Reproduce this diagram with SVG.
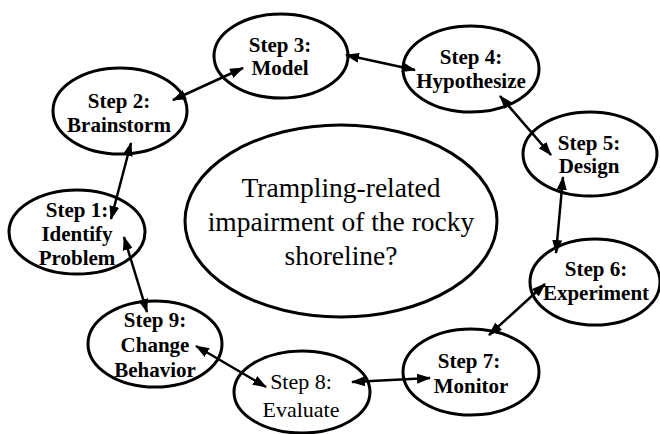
<svg xmlns="http://www.w3.org/2000/svg" width="660" height="434" viewBox="0 0 660 434">
<defs>
<marker id="ah" viewBox="0 0 14 10" refX="13" refY="5" markerWidth="14" markerHeight="10" markerUnits="userSpaceOnUse" orient="auto-start-reverse">
<path d="M0,0 L14,5 L0,10 z" fill="#000"/>
</marker>
</defs>
<rect width="660" height="434" fill="#fff"/>
<g id="center">
<ellipse cx="341" cy="221" rx="156" ry="96" fill="#fff" stroke="#000" stroke-width="3"/>
<text x="341" y="197" text-anchor="middle" font-family="Times New Roman" font-size="27.5">Trampling-related</text>
<text x="341" y="231" text-anchor="middle" font-family="Times New Roman" font-size="27.5">impairment of the rocky</text>
<text x="341" y="265" text-anchor="middle" font-family="Times New Roman" font-size="27.5">shoreline?</text>
</g>
<g id="step1">
<ellipse cx="77" cy="232" rx="68" ry="42" fill="#fff" stroke="#000" stroke-width="3"/>
<text x="77" y="217" text-anchor="middle" font-family="Times New Roman" font-size="21" font-weight="bold">Step 1:</text>
<text x="77" y="241" text-anchor="middle" font-family="Times New Roman" font-size="21" font-weight="bold">Identify</text>
<text x="77" y="265" text-anchor="middle" font-family="Times New Roman" font-size="21" font-weight="bold">Problem</text>
</g>
<g id="step2">
<ellipse cx="120" cy="111" rx="67" ry="43" fill="#fff" stroke="#000" stroke-width="3"/>
<text x="119" y="108" text-anchor="middle" font-family="Times New Roman" font-size="21" font-weight="bold">Step 2:</text>
<text x="119" y="132" text-anchor="middle" font-family="Times New Roman" font-size="21" font-weight="bold">Brainstorm</text>
</g>
<g id="step3">
<ellipse cx="281" cy="56" rx="67" ry="42" fill="#fff" stroke="#000" stroke-width="3"/>
<text x="280" y="52" text-anchor="middle" font-family="Times New Roman" font-size="21" font-weight="bold">Step 3:</text>
<text x="280" y="75" text-anchor="middle" font-family="Times New Roman" font-size="21" font-weight="bold">Model</text>
</g>
<g id="step4">
<ellipse cx="471" cy="69" rx="68" ry="43" fill="#fff" stroke="#000" stroke-width="3"/>
<text x="471" y="64" text-anchor="middle" font-family="Times New Roman" font-size="21" font-weight="bold">Step 4:</text>
<text x="471" y="88" text-anchor="middle" font-family="Times New Roman" font-size="21" font-weight="bold">Hypothesize</text>
</g>
<g id="step5">
<ellipse cx="590" cy="154" rx="67" ry="42" fill="#fff" stroke="#000" stroke-width="3"/>
<text x="589" y="150" text-anchor="middle" font-family="Times New Roman" font-size="21" font-weight="bold">Step 5:</text>
<text x="589" y="173" text-anchor="middle" font-family="Times New Roman" font-size="21" font-weight="bold">Design</text>
</g>
<g id="step6">
<ellipse cx="595" cy="282" rx="65" ry="43" fill="#fff" stroke="#000" stroke-width="3"/>
<text x="596" y="276" text-anchor="middle" font-family="Times New Roman" font-size="21" font-weight="bold">Step 6:</text>
<text x="596" y="300" text-anchor="middle" font-family="Times New Roman" font-size="21" font-weight="bold">Experiment</text>
</g>
<g id="step7">
<ellipse cx="471" cy="372" rx="68" ry="43" fill="#fff" stroke="#000" stroke-width="3"/>
<text x="469" y="368" text-anchor="middle" font-family="Times New Roman" font-size="21" font-weight="bold">Step 7:</text>
<text x="471" y="393" text-anchor="middle" font-family="Times New Roman" font-size="21" font-weight="bold">Monitor</text>
</g>
<g id="step8">
<ellipse cx="302" cy="392" rx="68" ry="41" fill="#fff" stroke="#000" stroke-width="3"/>
<text x="301" y="389" text-anchor="middle" font-family="Times New Roman" font-size="22">Step 8:</text>
<text x="301" y="417" text-anchor="middle" font-family="Times New Roman" font-size="22">Evaluate</text>
</g>
<g id="step9">
<ellipse cx="155" cy="344" rx="67" ry="43" fill="#fff" stroke="#000" stroke-width="3"/>
<text x="155" y="327" text-anchor="middle" font-family="Times New Roman" font-size="21" font-weight="bold">Step 9:</text>
<text x="155" y="352" text-anchor="middle" font-family="Times New Roman" font-size="21" font-weight="bold">Change</text>
<text x="155" y="377" text-anchor="middle" font-family="Times New Roman" font-size="21" font-weight="bold">Behavior</text>
</g>
<g id="connectors" stroke="#000" stroke-width="2.5" marker-start="url(#ah)" marker-end="url(#ah)">
<line x1="173" y1="100" x2="243" y2="68"/>
<line x1="346" y1="55" x2="415" y2="70"/>
<line x1="500" y1="96" x2="551" y2="155"/>
<line x1="563" y1="177" x2="556" y2="253"/>
<line x1="545" y1="284" x2="489" y2="335"/>
<line x1="352" y1="382" x2="430" y2="378"/>
<line x1="266" y1="387" x2="196" y2="346"/>
<line x1="147" y1="312" x2="124" y2="237"/>
<line x1="111" y1="219" x2="131" y2="143"/>
</g>
</svg>
